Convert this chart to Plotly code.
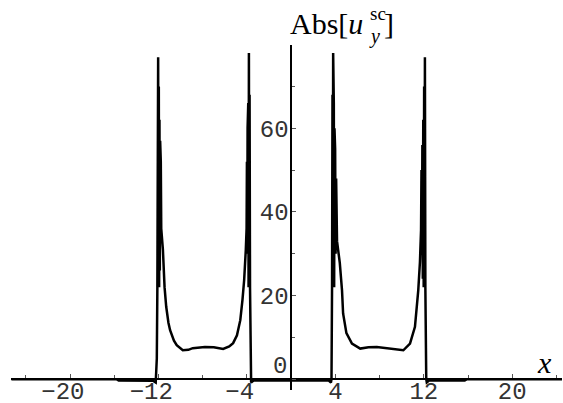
import plotly.graph_objects as go

# ---- data ----
x_curve = [-25.3, -15.8, -15.6, -13.0, -12.5, -12.25,
           -12.15, -12.1, -12.06, -12.03, -12.0, -11.97, -11.94, -11.91, -11.88, -11.85,
           -11.82, -11.79, -11.75,
           -11.6, -11.45, -11.3, -11.1, -10.95, -10.6, -10.35, -9.8, -9.3, -8.9, -7.8,
           -7.0, -6.15, -5.6, -5.25, -4.9, -4.6, -4.4, -4.25, -4.1, -4.03,
           -4.0, -3.97, -3.94, -3.91, -3.88, -3.85, -3.82, -3.79, -3.76, -3.72,
           -3.67, -3.62, -3.4,
           3.4, 3.6, 3.65, 3.7,
           3.74, 3.77, 3.8, 3.83, 3.86, 3.89, 3.92, 3.95, 3.98, 4.02, 4.07, 4.15,
           4.4, 4.6, 4.7, 5.0, 5.5, 6.25, 7.0, 7.75, 8.95, 10.15, 10.75, 11.2, 11.5, 11.65,
           11.75, 11.79, 11.83, 11.87, 11.91, 11.95, 11.99, 12.03, 12.07, 12.1, 12.14,
           12.18, 12.22, 12.27,
           12.5, 15.7, 15.9, 24.5]
y_curve = [0, 0, -0.3, -0.3, -0.4, -0.8,
           5, 22, 60, 77, 24, 70, 22, 62, 26, 57,
           30, 52, 36,
           31, 22, 17.3, 13.5, 11.7, 9.2, 8.1, 6.9, 7.0, 7.4, 7.7,
           7.6, 7.2, 7.8, 8.6, 10.5, 14.1, 19, 23.7, 31, 36,
           52, 30, 60, 24, 66, 22, 78, 24, 68, 22,
           0, -0.8, -0.35,
           -0.35, -0.8, 0, 22,
           68, 22, 78, 24, 66, 22, 60, 26, 55, 30, 48, 33,
           27.8, 21.3, 15.7, 11, 8.5, 7.3, 7.6, 7.7, 7.3, 6.9, 8.5, 12.5, 21.3, 28,
           35.6, 50, 30, 56, 24, 62, 22, 70, 24, 77, 22,
           5, 0, -0.8,
           -0.3, -0.3, 0, 0]

x_tick_vals = [-20, -12, -4, 4, 12, 20]
x_tick_text = ["\u221220\u00a0", "\u221212\u00a0", "\u22124\u00a0", "4", "12", "20"]
x_minor_vals = [-24, -16, -8, 8, 16, 24]
y_tick_vals = [0, 20, 40, 60]
y_tick_text = ["", "20", "40", "60"]
y_minor_vals = [10, 30, 50, 70]

x_range = [-25.34, 24.5]
y_range = [-2.6, 79.9]

fig = go.Figure()
fig.add_trace(go.Scatter(x=x_curve, y=y_curve, mode="lines",
                         line=dict(color="black", width=2.5), showlegend=False))

tickfont = dict(family="Liberation Mono", size=24, color="#333")

fig.update_layout(
    template="none",
    width=563, height=403, autosize=False,
    margin=dict(l=11, r=1, t=45, b=13, autoexpand=False),
    paper_bgcolor="white", plot_bgcolor="white",
    xaxis=dict(range=x_range, anchor="free", automargin=False,
               position=(0 - y_range[0]) / (y_range[1] - y_range[0]),
               showgrid=False, zeroline=False, showline=True,
               linecolor="black", linewidth=2,
               ticks="inside", ticklen=4, tickwidth=1, tickcolor="#555",
               tickvals=x_tick_vals, ticktext=x_tick_text, tickfont=tickfont,
               ticklabelstandoff=-10,
               minor=dict(tickvals=x_minor_vals, ticks="inside", ticklen=3,
                          tickcolor="#555", tickwidth=1)),
    yaxis=dict(range=y_range, anchor="free", automargin=False,
               position=(0 - x_range[0]) / (x_range[1] - x_range[0]),
               showgrid=False, zeroline=False, showline=True,
               linecolor="black", linewidth=1.5,
               ticks="inside", ticklen=4, tickwidth=1, tickcolor="#555",
               tickvals=y_tick_vals, ticktext=y_tick_text, tickfont=tickfont,
               ticklabelstandoff=-3,
               minor=dict(tickvals=y_minor_vals, ticks="inside", ticklen=3,
                          tickcolor="#555", tickwidth=1)),
)

serif = "Liberation Serif"
annos = [
    dict(x=0.5045, y=0.0667, text="0", xanchor="right", yanchor="middle",
         font=tickfont),
    dict(x=0.5027, y=1.061, text="Abs[<i>u</i>", xanchor="left", yanchor="middle",
         font=dict(family=serif, size=30, color="black")),
    dict(x=0.6465, y=1.026, text="<i>y</i>", xanchor="left", yanchor="middle",
         font=dict(family=serif, size=20, color="black")),
    dict(x=0.6485, y=1.090, text="sc", xanchor="left", yanchor="middle",
         font=dict(family=serif, size=19, color="black")),
    dict(x=0.673, y=1.061, text="]", xanchor="left", yanchor="middle",
         font=dict(family=serif, size=30, color="black")),
    dict(x=0.969, y=0.081, text="<i>x</i>", xanchor="center", yanchor="middle",
         font=dict(family=serif, size=30, color="black")),
]
for a in annos:
    a.update(xref="paper", yref="paper", showarrow=False)
fig.update_layout(annotations=annos)

fig.write_html("out.html", config={"displayModeBar": False},
               post_script="document.body.style.margin='0';")
